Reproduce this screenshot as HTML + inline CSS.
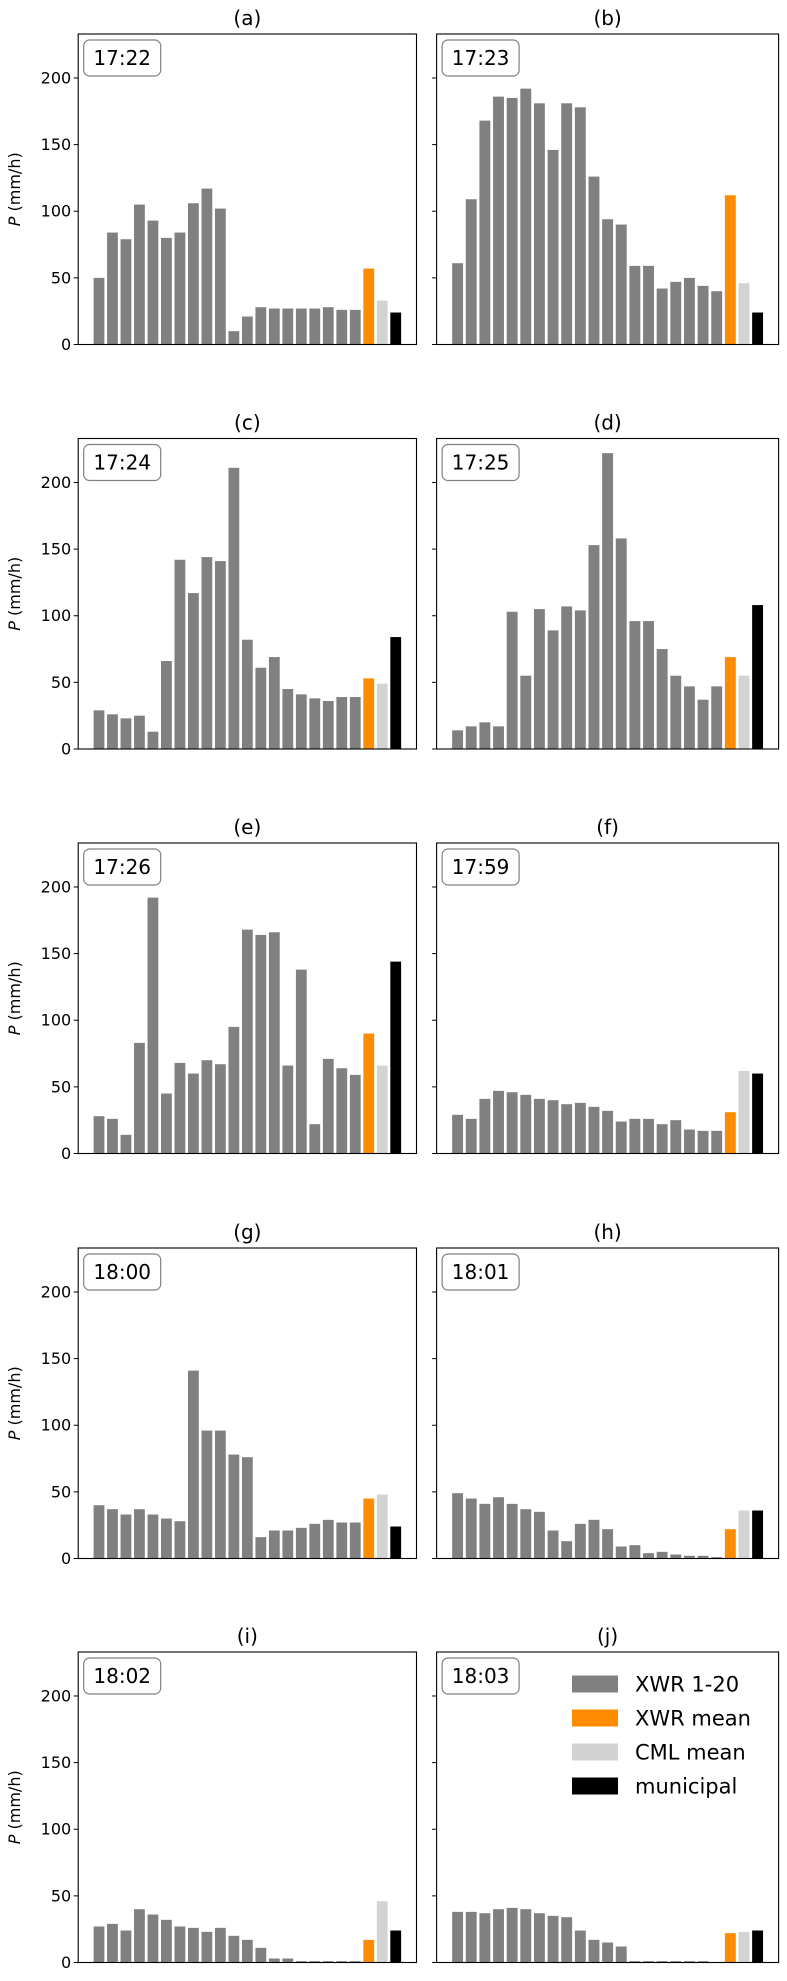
<!DOCTYPE html>
<html><head><meta charset="utf-8"><style>
html,body{margin:0;padding:0;background:#fff;}
svg{display:block;font-family:"DejaVu Sans","Liberation Sans",sans-serif;}
</style></head><body>
<svg id="chart" width="787" height="1981" viewBox="0 0 787 1981" xmlns="http://www.w3.org/2000/svg"></svg>
<script>
const panelLabels = ["(a)","(b)","(c)","(d)","(e)","(f)","(g)","(h)","(i)","(j)"];
const timeLabels = ["17:22","17:23","17:24","17:25","17:26","17:59","18:00","18:01","18:02","18:03"];
const xwrA = [50,84,79,105,93,80,84,106,117,102,10,21,28,27,27,27,27,28,26,26];
const xwrB = [61,109,168,186,185,192,181,146,181,178,126,94,90,59,59,42,47,50,44,40];
const xwrC = [29,26,23,25,13,66,142,117,144,141,211,82,61,69,45,41,38,36,39,39];
const xwrD = [14,17,20,17,103,55,105,89,107,104,153,222,158,96,96,75,55,47,37,47];
const xwrE = [28,26,14,83,192,45,68,60,70,67,95,168,164,166,66,138,22,71,64,59];
const xwrF = [29,26,41,47,46,44,41,40,37,38,35,32,24,26,26,22,25,18,17,17];
const xwrG = [40,37,33,37,33,30,28,141,96,96,78,76,16,21,21,23,26,29,27,27];
const xwrH = [49,45,41,46,41,37,35,21,13,26,29,22,9,10,4,5,3,2,2,1];
const xwrI = [27,29,24,40,36,32,27,26,23,26,20,17,11,3,3,1,1,1,1,1];
const xwrJ = [38,38,37,40,41,40,37,35,34,24,17,15,12,1,1,1,1,1,1,0];
const xwrMean = [57,112,53,69,90,31,45,22,17,22];
const cmlMean = [33,46,49,55,66,62,48,36,46,23];
const municipal = [24,24,84,108,144,60,24,36,24,24];
const yTicks = [0,50,100,150,200];
const legendLabels = ["XWR 1-20","XWR mean","CML mean","municipal"];

const xwrAll = [xwrA,xwrB,xwrC,xwrD,xwrE,xwrF,xwrG,xwrH,xwrI,xwrJ];
const NS="http://www.w3.org/2000/svg";
const svg=document.getElementById('chart');
function mk(tag,attrs,parent){const e=document.createElementNS(NS,tag);for(const k in attrs)e.setAttribute(k,attrs[k]);(parent||svg).appendChild(e);return e;}
const colLeft=[78.2,436.6], axW=[338.3,342];
const rowTop=[34,438.5,843,1248,1652], axH=310.5;
const yMax=233, xMin=-1.54, xMax=23.54;
const colors=["#808080","#ff8c00","#d3d3d3","#000000"];
for(let p=0;p<10;p++){
  const c=p%2, r=Math.floor(p/2);
  const L=colLeft[c], T=rowTop[r], W=axW[c], B=T+axH;
  const g=mk('g',{});
  
  
  const xs=v=>L+(v-xMin)/(xMax-xMin)*W;
  const ys=v=>B-v/yMax*axH;
  const vals=xwrAll[p].concat([xwrMean[p],cmlMean[p],municipal[p]]);
  vals.forEach((v,i)=>{
    const col=i<20?colors[0]:colors[i-19];
    const rc=mk('rect',{x:xs(i-0.4),y:ys(v),width:xs(0.4)-xs(-0.4),height:B-ys(v),fill:col},g);
    
    
  });
  const fr=mk('rect',{x:L,y:T,width:W,height:axH,fill:'none',stroke:'#000','stroke-width':1.1},g);
  
  
  yTicks.forEach(t=>{
    const y=ys(t);
    mk('line',{x1:L-4.5,x2:L,y1:y,y2:y,stroke:'#000','stroke-width':1},g);
    if(c===0){
      const tx=mk('text',{x:L-7,y:y+5.5,'text-anchor':'end','font-size':16},g);
      tx.textContent=t;
      
      
    }
  });
  const ti=mk('text',{x:L+W/2,y:T-9,'text-anchor':'middle','font-size':20},g);
  ti.textContent=panelLabels[p];
  
  
  const bx=mk('rect',{x:L+5.5,y:T+6,width:77,height:36,rx:6,fill:'#fff',stroke:'#808080','stroke-width':1.2},g);
  
  
  const tt=mk('text',{x:L+44,y:T+31,'text-anchor':'middle','font-size':20},g);
  tt.textContent=timeLabels[p];
  
  
  if(c===0){
    const yl=mk('text',{x:0,y:0,'text-anchor':'middle','font-size':16,transform:`translate(20,${T+axH/2}) rotate(-90)`},g);
    yl.innerHTML='<tspan font-style="italic">P</tspan>  (mm/h)';
    
    
  }
  if(p===9){
    const lg=mk('g',{},g);
    
    
    legendLabels.forEach((lab,i)=>{
      const cy=1684+i*34;
      const pr=mk('rect',{x:572,y:cy-8.5,width:46,height:17,fill:colors[i]},lg);
      
      
      const lt=mk('text',{x:635,y:cy+7.5,'font-size':21},lg);
      lt.textContent=lab;
      
      
    });
  }
}
</script>
</body></html>
